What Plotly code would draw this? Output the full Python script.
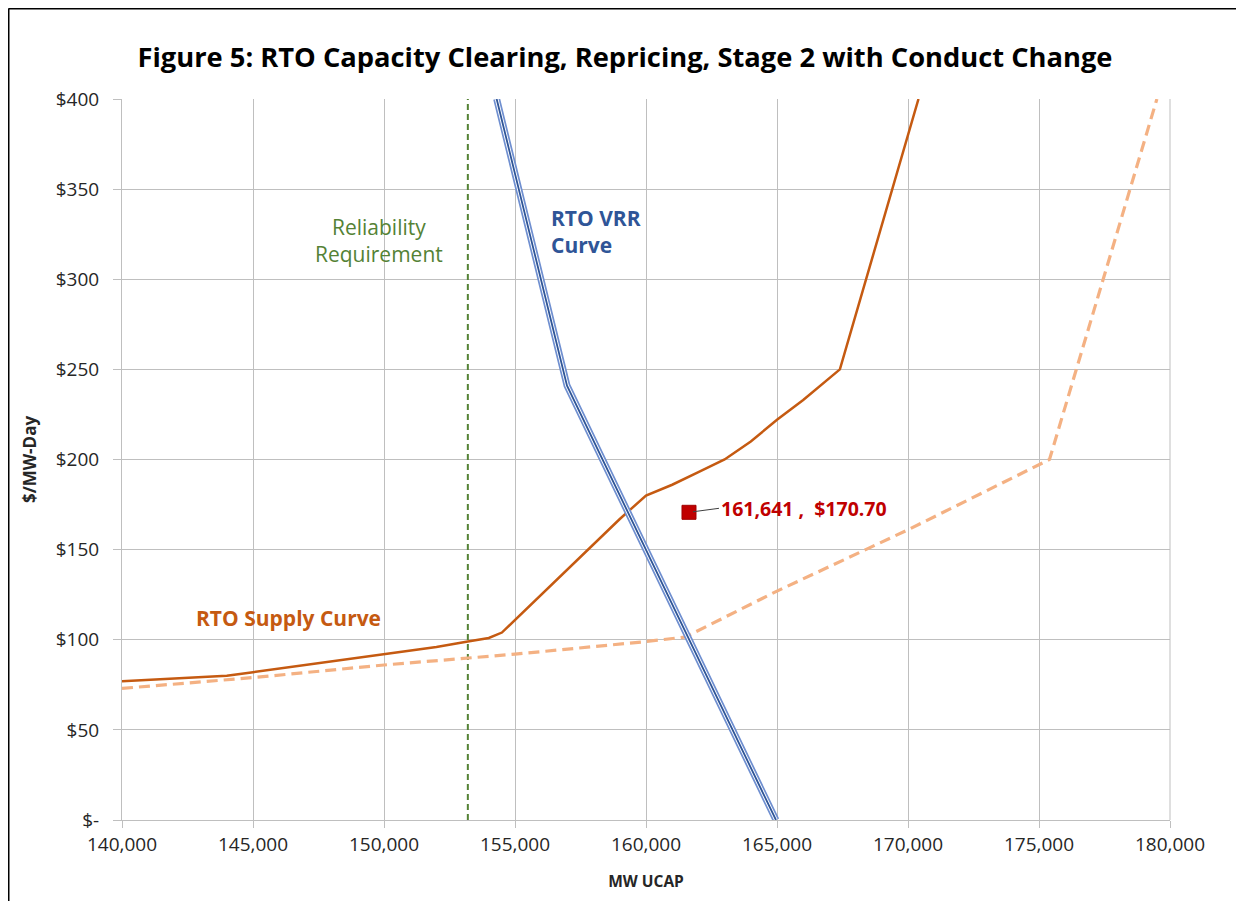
import plotly.graph_objects as go

# ---- data ----
supply_x = [140000, 142000, 144000, 145000, 147500, 150000, 152000, 153200, 154000, 154500,
            155000, 156000, 157000, 158000, 159000, 160000, 161000, 162000, 163000, 164000,
            165000, 166000, 167000, 167400, 170400]
supply_y = [77, 78.5, 80, 82, 87, 92, 96, 99, 101, 104,
            111, 125, 139, 153, 167, 180, 186, 193, 200, 210,
            222, 233, 245, 250, 400]

conduct_x = [140000, 145000, 150000, 153200, 155000, 160000, 161500, 165000, 170000, 175400, 179500]
conduct_y = [73, 79, 86, 90, 92, 99, 101.5, 127, 161, 200, 400]

vrr_x = [154300, 156985, 164960]
vrr_y = [400, 241, 0]

rel_req_x = [153200, 153200]
rel_req_y = [0, 400]

clear_x = [161641]
clear_y = [170.70]

x_ticks = [140000, 145000, 150000, 155000, 160000, 165000, 170000, 175000, 180000]
x_ticktext = ["140,000", "145,000", "150,000", "155,000", "160,000", "165,000", "170,000", "175,000", "180,000"]
y_ticks = [0, 50, 100, 150, 200, 250, 300, 350, 400]
y_ticktext = ["$-", "$50", "$100", "$150", "$200", "$250", "$300", "$350", "$400"]

FONT = "Open Sans"
ORANGE = "#C55A11"
LIGHT_ORANGE = "#F4B183"
DARK_BLUE = "#2F5597"
GREEN = "#548235"
RED = "#C00000"
TXT = "#262626"

fig = go.Figure()

fig.add_trace(go.Scatter(x=rel_req_x, y=rel_req_y, mode="lines",
                         line=dict(color=GREEN, width=2, dash="6px,4px"), hoverinfo="skip"))
fig.add_trace(go.Scatter(x=conduct_x, y=conduct_y, mode="lines",
                         line=dict(color=LIGHT_ORANGE, width=3.2, dash="11px,6px")))
fig.add_trace(go.Scatter(x=supply_x, y=supply_y, mode="lines",
                         line=dict(color=ORANGE, width=2.5)))
# VRR double-line effect
fig.add_trace(go.Scatter(x=vrr_x, y=vrr_y, mode="lines", line=dict(color="#6F8FD0", width=7)))
fig.add_trace(go.Scatter(x=vrr_x, y=vrr_y, mode="lines", line=dict(color="white", width=3.6)))
fig.add_trace(go.Scatter(x=vrr_x, y=vrr_y, mode="lines", line=dict(color=DARK_BLUE, width=1.8)))
fig.add_trace(go.Scatter(x=clear_x, y=clear_y, mode="markers",
                         marker=dict(symbol="square", size=14, color=RED,
                                     line=dict(color="#A00000", width=1))))

# page offset (browser body margin)
OFF = 8
W, H = 1244 - 2 * OFF, 909 - 2 * OFF
# plot area in page coordinates: x 122..1170, y 99..820
L = 122 - OFF
R = W - (1170 - OFF)
T = 99 - OFF
B = H - (820 - OFF)
pw, ph = W - L - R, H - T - B

def px(xpage):
    return (xpage - OFF - L) / pw

def py(ypage):
    return (H - B - (ypage - OFF)) / ph

fig.update_layout(
    width=W, height=H,
    margin=dict(l=L, r=R, t=T, b=B),
    paper_bgcolor="white", plot_bgcolor="white",
    showlegend=False,
    font=dict(family=FONT, color=TXT),
    title=dict(text="<b>Figure 5: RTO Capacity Clearing, Repricing, Stage 2 with Conduct Change</b>",
               x=(625 - OFF) / W, xref="container", xanchor="center",
               y=(H - (57 - OFF)) / H, yanchor="middle", yref="container",
               font=dict(family=FONT, size=27.3, color="black")),
    xaxis=dict(range=[140000, 180000], tickvals=x_ticks, ticktext=x_ticktext,
               showgrid=True, gridcolor="#BFBFBF", gridwidth=1,
               showline=True, linecolor="#BFBFBF", linewidth=1,
               ticks="outside", ticklen=7, tickcolor="#BFBFBF",
               tickfont=dict(family=FONT, size=19, color=TXT),
               title=dict(text="<b>MW UCAP</b>", font=dict(family=FONT, size=15.5, color=TXT),
                          standoff=20),
               zeroline=False, mirror=False),
    yaxis=dict(range=[0, 400], tickvals=y_ticks, ticktext=y_ticktext,
               showgrid=True, gridcolor="#BFBFBF", gridwidth=1,
               showline=True, linecolor="#BFBFBF", linewidth=1,
               ticks="outside", ticklen=8, tickcolor="#BFBFBF",
               ticklabelstandoff=10,
               tickfont=dict(family=FONT, size=19, color=TXT),
               title=dict(text="<b>$/MW-Day</b>", font=dict(family=FONT, size=17, color=TXT),
                          standoff=14),
               zeroline=False),
)

# outer border (top and left edges of the chart image)
fig.add_shape(type="line", xref="paper", yref="paper", x0=px(8.5), x1=px(1250), y0=py(8.5), y1=py(8.5),
              line=dict(color="black", width=2))
fig.add_shape(type="line", xref="paper", yref="paper", x0=px(8.5), x1=px(8.5), y0=py(8.5), y1=py(915),
              line=dict(color="black", width=2))

# right border of plot
fig.add_shape(type="line", xref="paper", yref="paper", x0=1, x1=1, y0=0, y1=1,
              line=dict(color="#BFBFBF", width=1))

fig.add_annotation(x=px(379), y=py(240), xref="paper", yref="paper",
                   xanchor="center", yanchor="middle",
                   text="Reliability<br>Requirement", showarrow=False,
                   font=dict(family=FONT, size=21, color=GREEN), align="center")
fig.add_annotation(x=px(549), y=py(231), xref="paper", yref="paper",
                   xanchor="left", yanchor="middle",
                   text="<b>RTO VRR<br>Curve</b>", showarrow=False,
                   font=dict(family=FONT, size=21, color=DARK_BLUE), align="left")
fig.add_annotation(x=px(194), y=py(618), xref="paper", yref="paper",
                   xanchor="left", yanchor="middle",
                   text="<b>RTO Supply Curve</b>", showarrow=False,
                   font=dict(family=FONT, size=21, color=ORANGE), align="left")
fig.add_annotation(x=clear_x[0], y=clear_y[0], xref="x", yref="y",
                   text="<b>%s ,  $%.2f</b>" % (f"{clear_x[0]:,}", clear_y[0]),
                   showarrow=True, arrowhead=0, arrowcolor="#404040", arrowwidth=1,
                   ax=30, ay=-4, xanchor="left", yanchor="middle", standoff=4,
                   font=dict(family=FONT, size=19.5, color=RED))

fig.write_html("out.html")
